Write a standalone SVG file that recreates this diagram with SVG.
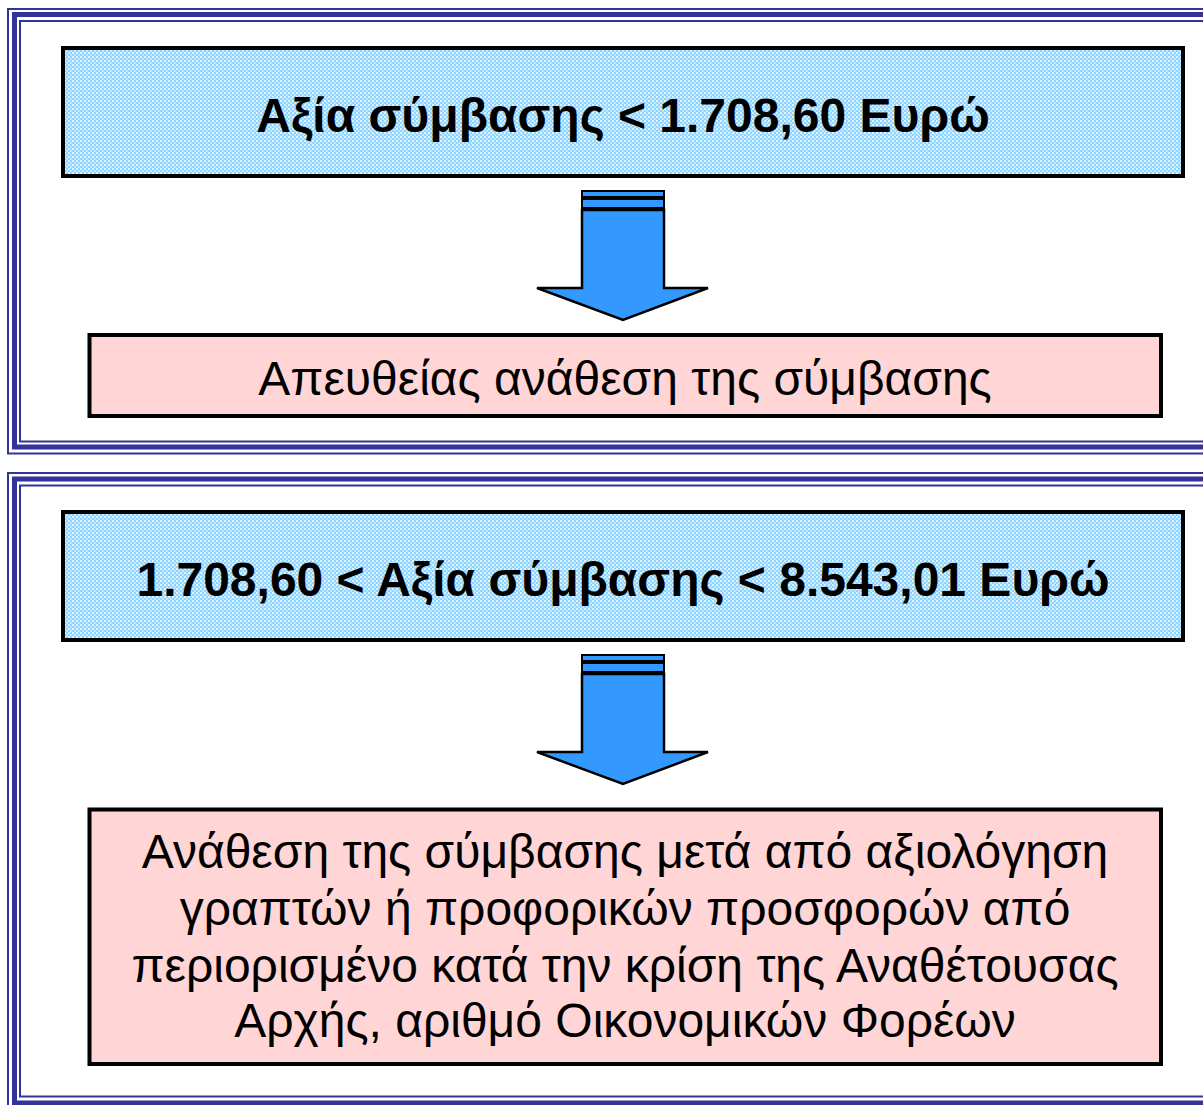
<svg xmlns="http://www.w3.org/2000/svg" width="1203" height="1105" viewBox="0 0 1203 1105">
  <defs>
    <pattern id="dots" width="4" height="4" patternUnits="userSpaceOnUse">
      <rect width="4" height="4" fill="#8fd4ff"/>
      <rect x="0" y="0" width="2" height="2" fill="#ffffff" opacity="0.7"/>
      <rect x="2" y="2" width="2" height="2" fill="#bfe9ff"/>
    </pattern>
    <g id="arrow">
      <rect x="582" y="191" width="82" height="6" fill="#3399ff" stroke="#000" stroke-width="2"/>
      <rect x="582" y="199" width="82" height="9" fill="#3399ff" stroke="#000" stroke-width="2"/>
      <path d="M582,210 L664,210 L664,288 L708,288 L623,320 L537,288 L582,288 Z" fill="#3399ff" stroke="#000" stroke-width="2.5" stroke-linejoin="miter"/>
    </g>
  </defs>
  <style>
    .fo{fill:none;stroke:#333399;stroke-width:2}
    .ft{fill:none;stroke:#333399;stroke-width:5}
    .blue{fill:url(#dots);stroke:#000;stroke-width:4}
    .pink{fill:#ffd5d5;stroke:#000;stroke-width:4}
    .tb{font-family:"Liberation Sans",Arial,sans-serif;font-weight:bold;font-size:48px;fill:#000;text-anchor:middle}
    .tr{font-family:"Liberation Sans",Arial,sans-serif;font-size:48px;fill:#000;text-anchor:middle}
  </style>
  <rect width="1203" height="1105" fill="#fff"/>
  <g id="frame1">
    <rect class="fo" x="8" y="9" width="1300" height="444.5"/>
    <rect class="ft" x="14.5" y="14.5" width="1300" height="432.5"/>
    <rect class="fo" x="20" y="21" width="1300" height="420.5"/>
  </g>
  <g id="frame2">
    <rect class="fo" x="8" y="473" width="1300" height="700"/>
    <rect class="ft" x="14.5" y="479" width="1300" height="624"/>
    <rect class="fo" x="20" y="485.5" width="1300" height="611"/>
  </g>
  <g id="node1">
    <rect class="blue" x="63" y="48" width="1120" height="128"/>
    <text class="tb" x="623" y="132">Αξία σύμβασης &lt; 1.708,60 Ευρώ</text>
  </g>
  <g id="node2">
    <rect class="pink" x="89.5" y="335" width="1071.5" height="81"/>
    <text class="tr" x="625" y="395">Απευθείας ανάθεση της σύμβασης</text>
  </g>
  <g id="node3">
    <rect class="blue" x="63" y="512" width="1120" height="128"/>
    <text class="tb" x="623" y="596">1.708,60 &lt; Αξία σύμβασης &lt; 8.543,01 Ευρώ</text>
  </g>
  <g id="node4">
    <rect class="pink" x="89.5" y="809.5" width="1071.5" height="254.5"/>
    <text class="tr" x="625" y="868">Ανάθεση της σύμβασης μετά από αξιολόγηση</text>
    <text class="tr" x="625" y="925">γραπτών ή προφορικών προσφορών από</text>
    <text class="tr" x="625" y="982">περιορισμένο κατά την κρίση της Αναθέτουσας</text>
    <text class="tr" x="625" y="1037">Αρχής, αριθμό Οικονομικών Φορέων</text>
  </g>
  <g id="connectors">
    <use href="#arrow"/>
    <use href="#arrow" y="464"/>
  </g>
</svg>
